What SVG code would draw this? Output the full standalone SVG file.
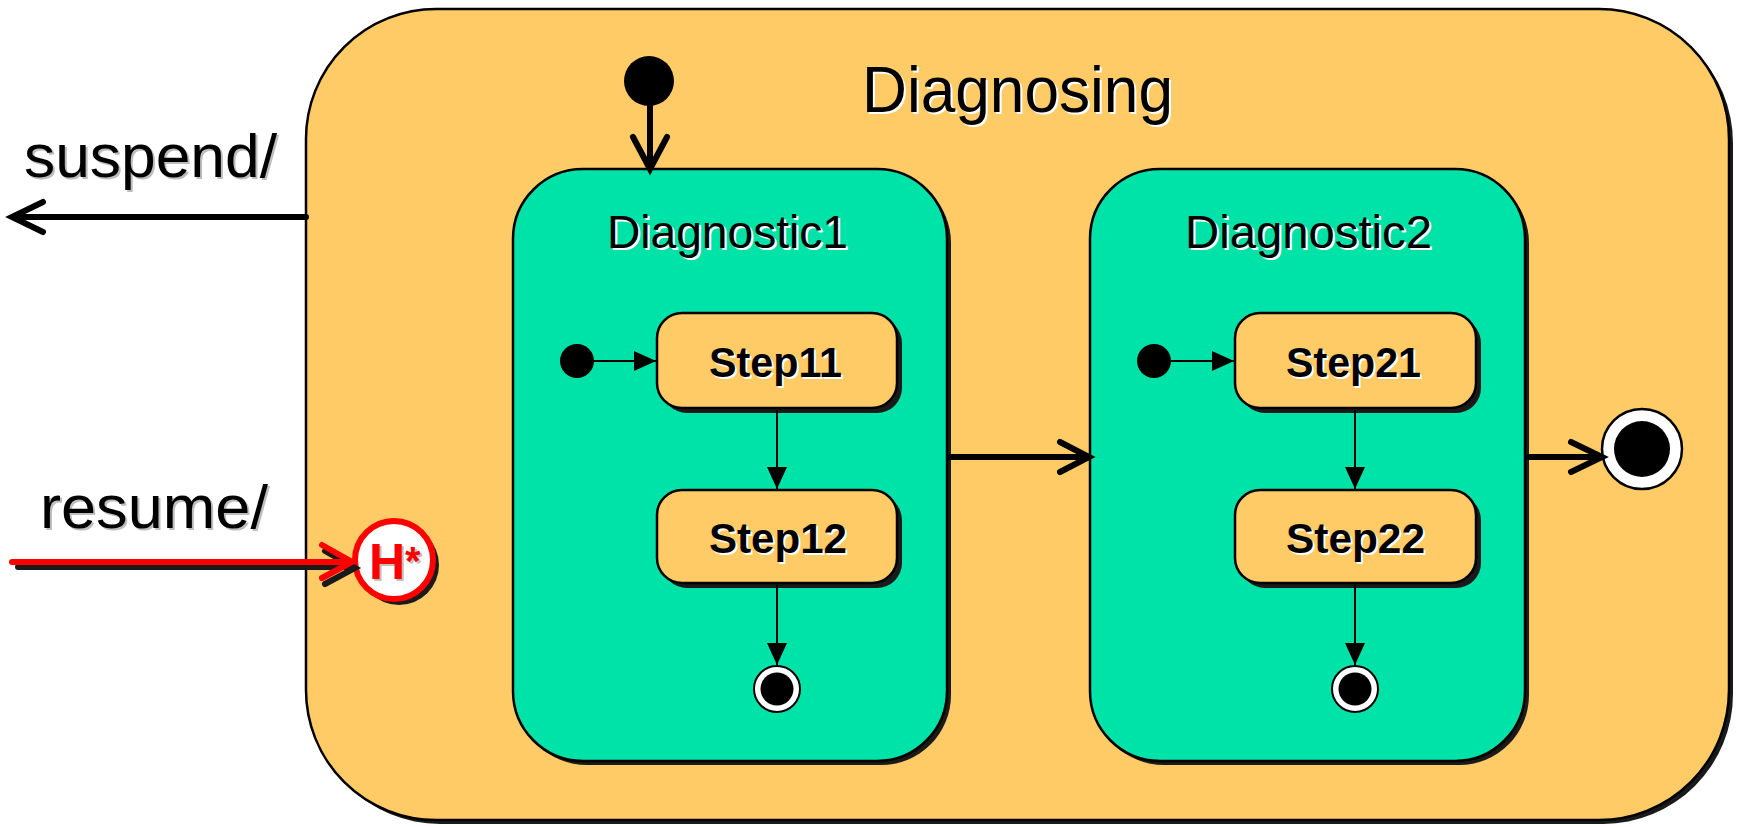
<svg xmlns="http://www.w3.org/2000/svg" width="1739" height="827" viewBox="0 0 1739 827">
<style>
.sh{fill:#1a1a1a}
.outer{fill:#FECB67;stroke:#000;stroke-width:2.5}
.comp{fill:#00E3A8;stroke:#000;stroke-width:2.5}
.step{fill:#FECB67;stroke:#000;stroke-width:2.5}
.lbl{font-family:"Liberation Sans",Arial,sans-serif;fill:#000}
.wsh{font-family:"Liberation Sans",Arial,sans-serif;fill:#fff}
.gsh{font-family:"Liberation Sans",Arial,sans-serif;fill:#bdbdbd}
.bold{font-weight:bold}
.thick{stroke:#000;stroke-width:6;fill:none;stroke-linecap:round}
.thin{stroke:#000;stroke-width:2;fill:none}
.red{stroke:#ff0000;stroke-width:6;fill:none;stroke-linecap:round}
.redsh{stroke:#1a1a1a;stroke-width:6;fill:none;stroke-linecap:round}
</style>
<defs>
<marker id="tri" markerUnits="userSpaceOnUse" markerWidth="30" markerHeight="30" viewBox="-25 -15 30 30" refX="0" refY="0" orient="auto">
<path d="M-22,-10 L0,0 L-22,10 Z" fill="#000"/>
</marker>
</defs>
<rect width="1739" height="827" fill="#fff"/>

<g id="Diagnosing">
<rect class="sh" x="310" y="13" width="1423" height="811" rx="130" ry="130"/>
<rect class="outer" x="306" y="9" width="1423" height="811" rx="130" ry="130"/>
<text class="wsh" x="864" y="114" font-size="64" textLength="311" lengthAdjust="spacingAndGlyphs">Diagnosing</text>
<text class="lbl" x="862" y="112" font-size="64" textLength="311" lengthAdjust="spacingAndGlyphs">Diagnosing</text>
</g>

<g id="init-top">
<circle cx="649" cy="81" r="25" fill="#000"/>
</g>

<g id="Diagnostic1">
<rect class="sh" x="517" y="173" width="434" height="592" rx="70" ry="70"/>
<rect class="comp" x="513" y="169" width="434" height="592" rx="70" ry="70"/>
<text class="wsh" x="609" y="250" font-size="47" textLength="241" lengthAdjust="spacingAndGlyphs">Diagnostic1</text>
<text class="lbl" x="607" y="248" font-size="47" textLength="241" lengthAdjust="spacingAndGlyphs">Diagnostic1</text>
</g>

<g id="init-d1"><circle cx="577" cy="361" r="17" fill="#000"/></g>

<g id="Step11">
<rect class="sh" x="662" y="318" width="240" height="95" rx="25" ry="25"/>
<rect class="step" x="657" y="313" width="240" height="95" rx="25" ry="25"/>
<text class="wsh bold" x="711" y="379" font-size="43" textLength="133" lengthAdjust="spacingAndGlyphs">Step11</text>
<text class="lbl bold" x="709" y="377" font-size="43" textLength="133" lengthAdjust="spacingAndGlyphs">Step11</text>
</g>

<g id="Step12">
<rect class="sh" x="662" y="495" width="240" height="93" rx="25" ry="25"/>
<rect class="step" x="657" y="490" width="240" height="93" rx="25" ry="25"/>
<text class="wsh bold" x="711" y="555" font-size="43" textLength="138" lengthAdjust="spacingAndGlyphs">Step12</text>
<text class="lbl bold" x="709" y="553" font-size="43" textLength="138" lengthAdjust="spacingAndGlyphs">Step12</text>
</g>

<g id="final-d1">
<circle cx="777" cy="689" r="23" fill="#fff" stroke="#000" stroke-width="2"/>
<circle cx="777" cy="689" r="16.5" fill="#000"/>
</g>

<g id="Diagnostic2">
<rect class="sh" x="1094" y="173" width="435" height="592" rx="70" ry="70"/>
<rect class="comp" x="1090" y="169" width="435" height="592" rx="70" ry="70"/>
<text class="wsh" x="1187" y="250" font-size="47" textLength="247" lengthAdjust="spacingAndGlyphs">Diagnostic2</text>
<text class="lbl" x="1185" y="248" font-size="47" textLength="247" lengthAdjust="spacingAndGlyphs">Diagnostic2</text>
</g>

<g id="init-d2"><circle cx="1154" cy="361" r="17" fill="#000"/></g>

<g id="Step21">
<rect class="sh" x="1240" y="318" width="241" height="95" rx="25" ry="25"/>
<rect class="step" x="1235" y="313" width="241" height="95" rx="25" ry="25"/>
<text class="wsh bold" x="1288" y="379" font-size="43" textLength="135" lengthAdjust="spacingAndGlyphs">Step21</text>
<text class="lbl bold" x="1286" y="377" font-size="43" textLength="135" lengthAdjust="spacingAndGlyphs">Step21</text>
</g>

<g id="Step22">
<rect class="sh" x="1240" y="495" width="241" height="93" rx="25" ry="25"/>
<rect class="step" x="1235" y="490" width="241" height="93" rx="25" ry="25"/>
<text class="wsh bold" x="1288" y="555" font-size="43" textLength="139" lengthAdjust="spacingAndGlyphs">Step22</text>
<text class="lbl bold" x="1286" y="553" font-size="43" textLength="139" lengthAdjust="spacingAndGlyphs">Step22</text>
</g>

<g id="final-d2">
<circle cx="1355" cy="689" r="23" fill="#fff" stroke="#000" stroke-width="2"/>
<circle cx="1355" cy="689" r="16.5" fill="#000"/>
</g>

<g id="final-outer">
<circle cx="1642" cy="449" r="40" fill="#fff" stroke="#000" stroke-width="2.5"/>
<circle cx="1642" cy="449" r="28" fill="#000"/>
</g>

<g id="history">
<circle cx="399" cy="565" r="40" fill="#1a1a1a"/>
<circle cx="394" cy="560" r="39" fill="#fff" stroke="#ff0000" stroke-width="6"/>
<text x="371" y="581" font-family="'Liberation Sans',Arial,sans-serif" font-weight="bold" font-size="50" fill="#c0c0c0">H<tspan font-size="40" dy="-4">*</tspan></text>
<text x="369" y="579" font-family="'Liberation Sans',Arial,sans-serif" font-weight="bold" font-size="50" fill="#ff0000">H<tspan font-size="40" dy="-4">*</tspan></text>
</g>

<g id="labels">
<text class="gsh" x="26" y="179" font-size="62" textLength="253" lengthAdjust="spacingAndGlyphs">suspend/</text>
<text class="lbl" x="24" y="177" font-size="62" textLength="253" lengthAdjust="spacingAndGlyphs">suspend/</text>
<text class="gsh" x="42" y="530" font-size="62" textLength="228" lengthAdjust="spacingAndGlyphs">resume/</text>
<text class="lbl" x="40" y="528" font-size="62" textLength="228" lengthAdjust="spacingAndGlyphs">resume/</text>
</g>

<g id="connectors">
<path class="thick" d="M650,106 L650,168 M633,137 L650,169 L667,137"/>
<path class="thick" d="M950,457 L1088,457 M1060,442 L1089,457 L1060,472"/>
<path class="thick" d="M1529,457 L1601,457 M1571,442 L1602,457 L1571,472"/>
<path class="thick" d="M306,217 L12,217 M43,202 L12,217 L43,232"/>
<path class="redsh" d="M18,567 L352,567 M325,551 L355,568 L325,584"/>
<path class="red" d="M12,562 L350,562 M322,545 L352,562 L322,578"/>
<line class="thin" x1="594" y1="361" x2="656" y2="361" marker-end="url(#tri)"/>
<line class="thin" x1="777" y1="410" x2="777" y2="489" marker-end="url(#tri)"/>
<line class="thin" x1="777" y1="585" x2="777" y2="665" marker-end="url(#tri)"/>
<line class="thin" x1="1171" y1="361" x2="1234" y2="361" marker-end="url(#tri)"/>
<line class="thin" x1="1355" y1="410" x2="1355" y2="489" marker-end="url(#tri)"/>
<line class="thin" x1="1355" y1="585" x2="1355" y2="665" marker-end="url(#tri)"/>
</g>
</svg>
